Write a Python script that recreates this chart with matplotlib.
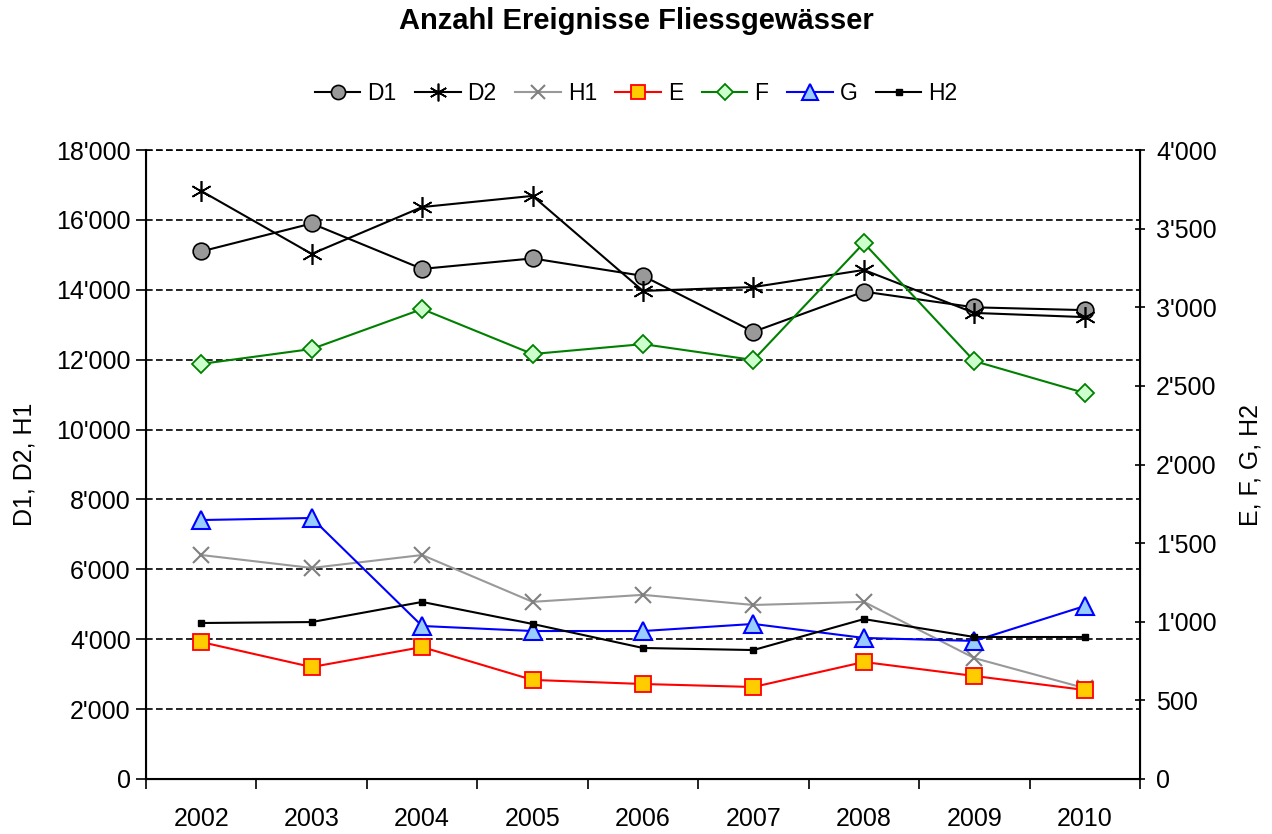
import matplotlib
matplotlib.use("Agg")
import matplotlib.pyplot as plt
from matplotlib.ticker import FuncFormatter, MultipleLocator, FixedLocator

plt.rcParams['font.family'] = ['Liberation Sans', 'DejaVu Sans']

# -----------------------------
# Data
# -----------------------------
years = ["2002", "2003", "2004", "2005", "2006", "2007", "2008", "2009", "2010"]

# left axis
d1 = [15100, 15900, 14600, 14900, 14400, 12800, 13950, 13500, 13420]
d2 = [16830, 15030, 16370, 16690, 13970, 14080, 14570, 13340, 13220]
h1 = [6410, 6040, 6410, 5070, 5270, 4980, 5070, 3460, 2600]

# right axis
e = [871, 712, 839, 630, 604, 585, 744, 655, 566]
f = [2640, 2735, 2989, 2703, 2766, 2665, 3409, 2658, 2455]
g = [1647, 1660, 973, 941, 941, 986, 897, 878, 1100]
h2 = [992, 998, 1126, 986, 833, 820, 1017, 903, 903]

def sep(v, pos):
    return f"{int(v):,}".replace(",", "'")

x = list(range(len(years)))

fig = plt.figure(figsize=(12.72, 8.34), dpi=100)
ax = fig.add_axes([0.1148, 0.066, 0.7814, 0.754])
ax2 = ax.twinx()

lw = 1.5
ax.plot(x, d1, color='black', lw=lw, marker='o', ms=12, mfc='#999999', mec='black', mew=1.2, label='D1', zorder=5)
ax.plot(x, d2, color='black', lw=lw, marker=(6, 2, 0), ms=15, mec='black', mew=1.2, label='D2', zorder=5)
ax.plot(x, h1, color='#999999', lw=lw, marker='x', ms=12, mec='#808080', mew=1.5, label='H1', zorder=5)
ax2.plot(x, e, color='red', lw=lw, marker='s', ms=12, mfc='#FFCC00', mec='red', mew=1.3, label='E', zorder=5)
ax2.plot(x, f, color='green', lw=lw, marker='D', ms=9, mfc='#CCFFCC', mec='green', mew=1.3, label='F', zorder=5)
ax2.plot(x, g, color='blue', lw=lw, marker='^', ms=13, mfc='#99CCFF', mec='blue', mew=1.5, label='G', zorder=5)
ax2.plot(x, h2, color='black', lw=lw, marker='s', ms=4.5, mfc='black', mec='black', label='H2', zorder=5)

ax.set_ylim(0, 18000)
ax2.set_ylim(0, 4000)
ax.set_xlim(-0.5, len(years) - 0.5)
ax.yaxis.set_major_locator(MultipleLocator(2000))
ax2.yaxis.set_major_locator(MultipleLocator(500))
ax.yaxis.set_major_formatter(FuncFormatter(sep))
ax2.yaxis.set_major_formatter(FuncFormatter(sep))

ax.set_xticks(x)
ax.set_xticklabels(years)
ax.xaxis.set_minor_locator(FixedLocator([i - 0.5 for i in range(len(years) + 1)]))
ax.tick_params(axis='x', which='major', length=0, labelsize=18, pad=20)
ax.tick_params(axis='x', which='minor', length=7, width=1.2)
ax.tick_params(axis='y', length=7, width=1.2, labelsize=18, pad=4)
ax2.tick_params(axis='y', length=7, width=1.2, labelsize=18, direction='inout', pad=8)

ax.grid(axis='y', color='black', ls=(0, (4, 2)), lw=1.2)
ax.set_axisbelow(True)

ax.spines['top'].set_visible(False)
ax2.spines['top'].set_visible(False)
for sp in [ax.spines['left'], ax.spines['bottom'], ax2.spines['right']]:
    sp.set_linewidth(1.5)
# dashed line along the top at 18'000
ax.axhline(18000, color='black', ls=(0, (4, 2)), lw=1.2, clip_on=False, zorder=1)

ax.set_ylabel("D1, D2, H1", fontsize=18, labelpad=14)
ax2.set_ylabel("E, F, G, H2", fontsize=18, labelpad=16)

fig.suptitle("Anzahl Ereignisse Fliessgewässer", fontsize=21, fontweight='bold', y=0.992)

h_a, l_a = ax.get_legend_handles_labels()
h_b, l_b = ax2.get_legend_handles_labels()
fig.legend(h_a + h_b, l_a + l_b, loc='center', bbox_to_anchor=(0.5, 0.888), ncol=7,
           frameon=False, fontsize=16.5, handlelength=2.0, handletextpad=0.3, columnspacing=0.8,
           markerscale=0.85)

fig.savefig("out.png", dpi=100)
